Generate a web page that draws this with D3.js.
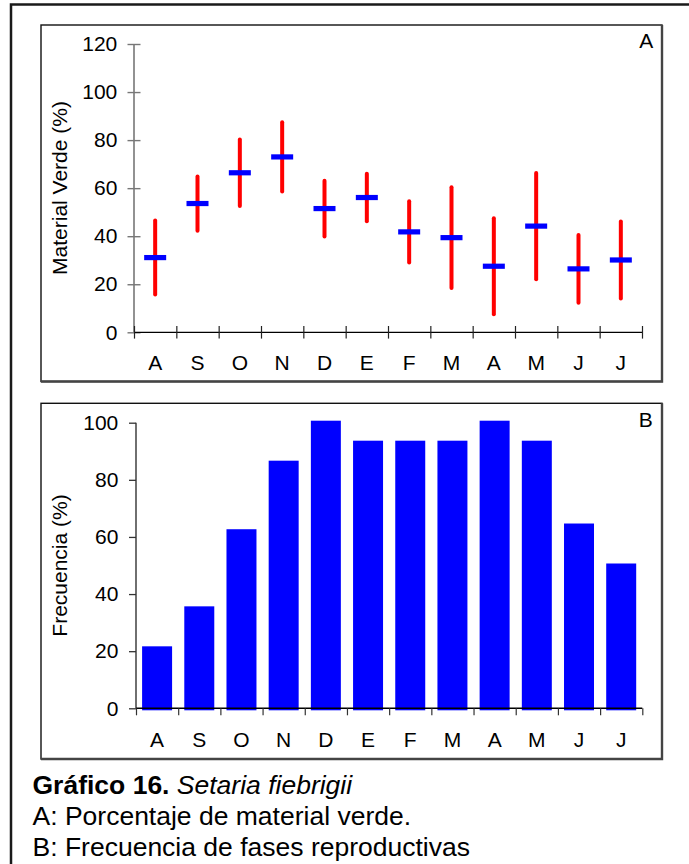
<!DOCTYPE html>
<html>
<head>
<meta charset="utf-8">
<script src="https://cdn.jsdelivr.net/npm/d3@7"></script>
<style>
  body { margin: 0; background: #fff; }
  svg { display: block; font-family: "Liberation Sans", Arial, sans-serif; }
</style>
</head>
<body>
<div id="chart"></div>
<script>
// data
var months = ["A", "S", "O", "N", "D", "E", "F", "M", "A", "M", "J", "J"];
var verdeMean = [31.1, 53.6, 66.4, 73.0, 51.5, 56.1, 41.8, 39.4, 27.5, 44.2, 26.4, 30.1];
var verdeSd = [15.4, 11.3, 13.8, 14.4, 11.6, 9.9, 12.7, 21.0, 20.0, 22.1, 14.1, 16.0];
var frecuencia = [21, 35, 62, 86, 100, 93, 93, 93, 100, 93, 64, 50];
var ticksA = [0, 20, 40, 60, 80, 100, 120];
var ticksB = [0, 20, 40, 60, 80, 100];

var svgWidth = 689;
var svgHeight = 864;
var fontSize = 21;

var svg = d3.select("#chart")
  .append("svg")
  .attr("width", svgWidth)
  .attr("height", svgHeight);

// outer frame (runs off the right and bottom edge)
svg.append("path")
  .attr("d", "M11,870 L11,4.5 L700,4.5")
  .attr("fill", "none")
  .attr("stroke", "#1a1a1a")
  .attr("stroke-width", 2.5);

function panelBox(x0, y0, x1, y1) {
  svg.append("rect")
    .attr("x", x0).attr("y", y0)
    .attr("width", x1 - x0).attr("height", y1 - y0)
    .attr("fill", "none")
    .attr("stroke", "#111")
    .attr("stroke-width", 1.4);
  svg.append("path")
    .attr("d", `M${x1},${y0} L${x1},${y1} L${x0},${y1}`)
    .attr("fill", "none")
    .attr("stroke", "#444")
    .attr("stroke-width", 2.4);
}

panelBox(41, 25, 662, 381.5);
panelBox(41, 403.3, 662, 759);

// ---------- Panel A: material verde ----------
var xA = d3.scaleBand().domain(d3.range(12)).range([134, 642]);
var xAticks = d3.scaleLinear().domain([0, 12]).range([134, 642]);
var yA = d3.scaleLinear().domain([0, 120]).range([332.3, 44]);

// y axis, cross ticks, grey
var yAxisA = svg.append("g")
  .attr("transform", "translate(134,0)")
  .call(d3.axisLeft(yA).tickValues(ticksA).tickSize(6.5).tickPadding(10.2));
yAxisA.select(".domain").attr("stroke", "#777").attr("stroke-width", 1.6).attr("d", "M0,44V332.3");
yAxisA.selectAll(".tick line").attr("x2", -6.5).attr("x1", 6.5).attr("stroke", "#777").attr("stroke-width", 1.4);
yAxisA.selectAll("text").attr("font-size", fontSize).attr("fill", "#000").attr("font-family", "Liberation Sans, Arial");

// x axis, cross ticks at band edges
var xAxisA = svg.append("g")
  .attr("transform", "translate(0,332.3)")
  .call(d3.axisBottom(xAticks).ticks(12).tickSize(6.3).tickFormat(""));
xAxisA.select(".domain").attr("stroke", "#000").attr("stroke-width", 1.3).attr("d", "M134,0H642");
xAxisA.selectAll(".tick line").attr("y1", -6.3).attr("stroke", "#222").attr("stroke-width", 1.2);

var xLabA = svg.append("g")
  .attr("transform", "translate(0,332.3)")
  .call(d3.axisBottom(xA).tickSize(0).tickPadding(22.8).tickFormat(i => months[i]));
xLabA.select(".domain").remove();
xLabA.selectAll("text").attr("font-size", fontSize).attr("fill", "#000").attr("font-family", "Liberation Sans, Arial");

// error bars
svg.append("g").selectAll("line")
  .data(verdeMean)
  .enter()
  .append("line")
  .attr("x1", (d, i) => xA(i) + xA.bandwidth() / 2)
  .attr("x2", (d, i) => xA(i) + xA.bandwidth() / 2)
  .attr("y1", (d, i) => yA(d + verdeSd[i]))
  .attr("y2", (d, i) => yA(d - verdeSd[i]))
  .attr("stroke", "#ff0000")
  .attr("stroke-width", 4)
  .attr("stroke-linecap", "round");

svg.append("g").selectAll("rect")
  .data(verdeMean)
  .enter()
  .append("rect")
  .attr("x", (d, i) => xA(i) + xA.bandwidth() / 2 - 11)
  .attr("y", d => yA(d) - 2.6)
  .attr("width", 22)
  .attr("height", 5.2)
  .attr("fill", "#0000ff");

svg.append("text")
  .attr("transform", "translate(67,188) rotate(-90)")
  .attr("text-anchor", "middle")
  .attr("font-size", fontSize)
  .text("Material Verde (%)");

svg.append("text")
  .attr("x", 653.3).attr("y", 48.3)
  .attr("text-anchor", "end")
  .attr("font-size", fontSize)
  .text("A");

// ---------- Panel B: frecuencia ----------
var xB = d3.scaleBand().domain(d3.range(12)).range([136, 642.3])
  .paddingInner(0.384).paddingOuter(0.192);
var xBticks = d3.scaleLinear().domain([0, 12]).range([136, 642.3]);
var xBlab = d3.scaleBand().domain(d3.range(12)).range([136, 642.3]);
var yB = d3.scaleLinear().domain([0, 100]).range([708.3, 422.7]);

svg.append("g").selectAll("rect")
  .data(frecuencia)
  .enter()
  .append("rect")
  .attr("x", (d, i) => xB(i))
  .attr("y", d => yB(d))
  .attr("width", xB.bandwidth())
  .attr("height", d => yB(0) - yB(d))
  .attr("fill", "#0000ff")
  .attr("stroke", "#0000ff")
  .attr("stroke-width", 4);

var yAxisB = svg.append("g")
  .attr("transform", "translate(136,0)")
  .call(d3.axisLeft(yB).tickValues(ticksB).tickSize(7).tickPadding(10.7));
yAxisB.select(".domain").attr("stroke", "#333").attr("stroke-width", 1.4).attr("d", "M0,422.7V708.3");
yAxisB.selectAll(".tick line").attr("stroke", "#333").attr("stroke-width", 1.3);
yAxisB.selectAll("text").attr("font-size", fontSize).attr("fill", "#000").attr("font-family", "Liberation Sans, Arial");

var xAxisB = svg.append("g")
  .attr("transform", "translate(0,708.3)")
  .call(d3.axisBottom(xBticks).ticks(12).tickSize(7).tickFormat(""));
xAxisB.select(".domain").attr("stroke", "#000").attr("stroke-width", 1.4).attr("d", "M136,0H642.3");
xAxisB.selectAll(".tick line").attr("stroke", "#333").attr("stroke-width", 1.2);

var xLabB = svg.append("g")
  .attr("transform", "translate(0,708.3)")
  .call(d3.axisBottom(xBlab).tickSize(0).tickPadding(23.5).tickFormat(i => months[i]));
xLabB.select(".domain").remove();
xLabB.selectAll("text").attr("font-size", fontSize).attr("fill", "#000").attr("font-family", "Liberation Sans, Arial");

svg.append("text")
  .attr("transform", "translate(67,565.5) rotate(-90)")
  .attr("text-anchor", "middle")
  .attr("font-size", fontSize)
  .text("Frecuencia (%)");

svg.append("text")
  .attr("x", 652.7).attr("y", 426.7)
  .attr("text-anchor", "end")
  .attr("font-size", fontSize)
  .text("B");

// ---------- caption ----------
var cap = svg.append("g").attr("font-size", 26.5);
var line1 = cap.append("text").attr("x", 32.5).attr("y", 794);
line1.append("tspan").attr("font-weight", "bold").text("Gráfico 16.");
line1.append("tspan").attr("font-style", "italic").text(" Setaria fiebrigii");
cap.append("text").attr("x", 32.5).attr("y", 825).text("A: Porcentaje de material verde.");
cap.append("text").attr("x", 32.5).attr("y", 855.5).text("B: Frecuencia de fases reproductivas");
</script>
</body>
</html>
